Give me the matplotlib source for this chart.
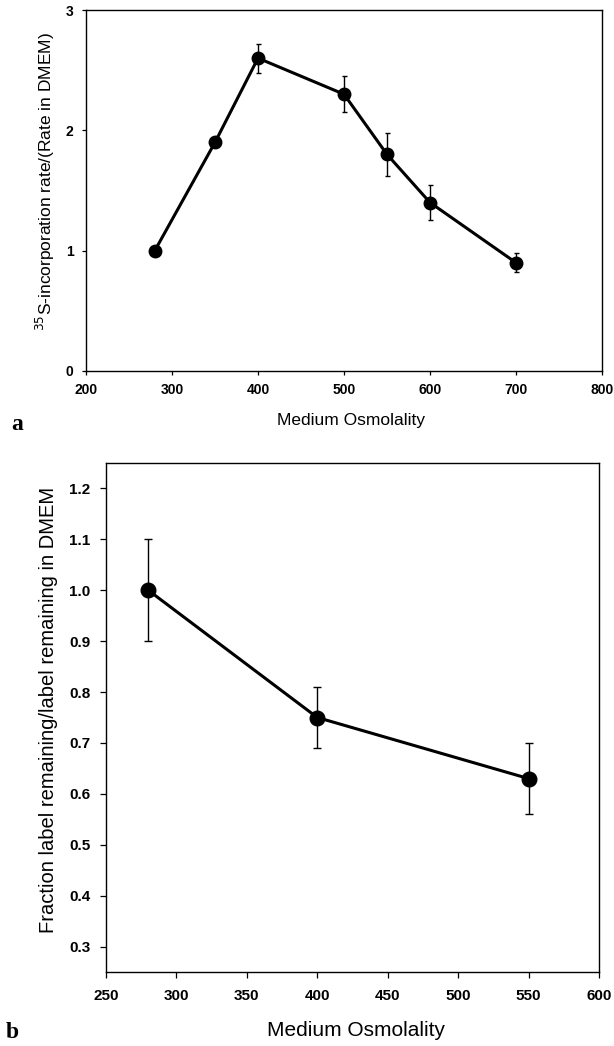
import matplotlib
matplotlib.use("Agg")
import matplotlib.pyplot as plt

# Panel a data
osm_a = [280, 350, 400, 500, 550, 600, 700]
rate_a = [1.0, 1.9, 2.6, 2.3, 1.8, 1.4, 0.9]
err_a = [0.03, 0.04, 0.12, 0.15, 0.18, 0.145, 0.08]
xticks_a = [200, 300, 400, 500, 600, 700, 800]
yticks_a = [0, 1, 2, 3]

# Panel b data
osm_b = [280, 400, 550]
frac_b = [1.0, 0.75, 0.63]
err_b = [0.10, 0.06, 0.07]
xticks_b = [250, 300, 350, 400, 450, 500, 550, 600]
yticks_b = [0.3, 0.4, 0.5, 0.6, 0.7, 0.8, 0.9, 1.0, 1.1, 1.2]

plt.rcParams['font.family'] = ['Liberation Sans', 'DejaVu Sans']

W, H = 614, 1046
fig = plt.figure(figsize=(W / 100, H / 100), dpi=100)

# ---- panel a ----
a_l, a_r, a_t, a_b = 86, 602, 10, 371
ax1 = fig.add_axes([a_l / W, 1 - a_b / H, (a_r - a_l) / W, (a_b - a_t) / H])
ax1.errorbar(osm_a, rate_a, yerr=err_a, color='black', lw=2.2, marker='o',
             markersize=9, ecolor='black', elinewidth=1.0, capsize=1.8, capthick=1.0)
ax1.set_xlim(200, 800)
ax1.set_ylim(0, 3)
ax1.set_xticks(xticks_a)
ax1.set_yticks(yticks_a)
ax1.tick_params(axis='x', direction='out', length=3, width=0.9, labelsize=10, pad=6)
ax1.tick_params(axis='y', direction='out', length=3, width=0.9, labelsize=10, pad=6)
for lab in ax1.get_xticklabels() + ax1.get_yticklabels():
    lab.set_fontweight('bold')
for s in ax1.spines.values():
    s.set_linewidth(1.0)
ax1.set_xlabel('Medium Osmolality', fontsize=12.5, va='center')
ax1.xaxis.set_label_coords((351 - a_l) / (a_r - a_l), (a_b - 421) / (a_b - a_t))
ax1.set_ylabel('$^{35}$S-incorporation rate/(Rate in DMEM)', fontsize=12.5, va='center')
ax1.yaxis.set_label_coords((45 - a_l) / (a_r - a_l), (a_b - 181) / (a_b - a_t))
fig.text(11 / W, 1 - 425 / H, 'a', fontsize=17, fontweight='bold',
         family='Liberation Serif', va='center', ha='left')

# ---- panel b ----
b_l, b_r, b_t, b_b = 106, 599, 463, 972
ax2 = fig.add_axes([b_l / W, 1 - b_b / H, (b_r - b_l) / W, (b_b - b_t) / H])
ax2.errorbar(osm_b, frac_b, yerr=err_b, color='black', lw=2.2, marker='o',
             markersize=10.5, ecolor='black', elinewidth=1.0, capsize=3, capthick=1.0)
ax2.set_xlim(250, 600)
ax2.set_ylim(0.25, 1.25)
ax2.set_xticks(xticks_b)
ax2.set_yticks(yticks_b)
ax2.set_yticklabels([f'{v:.1f}' for v in yticks_b])
ax2.tick_params(axis='x', direction='out', length=4, width=0.9, labelsize=11, pad=8)
ax2.tick_params(axis='y', direction='out', length=4, width=0.9, labelsize=11, pad=7)
for lab in ax2.get_xticklabels() + ax2.get_yticklabels():
    lab.set_fontweight('bold')
for s in ax2.spines.values():
    s.set_linewidth(1.0)
ax2.set_xlabel('Medium Osmolality', fontsize=15, va='center')
ax2.xaxis.set_label_coords((356 - b_l) / (b_r - b_l), (b_b - 1031) / (b_b - b_t))
ax2.set_ylabel('Fraction label remaining/label remaining in DMEM', fontsize=14.5, va='center')
ax2.yaxis.set_label_coords((49 - b_l) / (b_r - b_l), (b_b - 710) / (b_b - b_t))
fig.text(6 / W, 1 - 1033 / H, 'b', fontsize=17, fontweight='bold',
         family='Liberation Serif', va='center', ha='left')

fig.savefig('out.png', dpi=100)
